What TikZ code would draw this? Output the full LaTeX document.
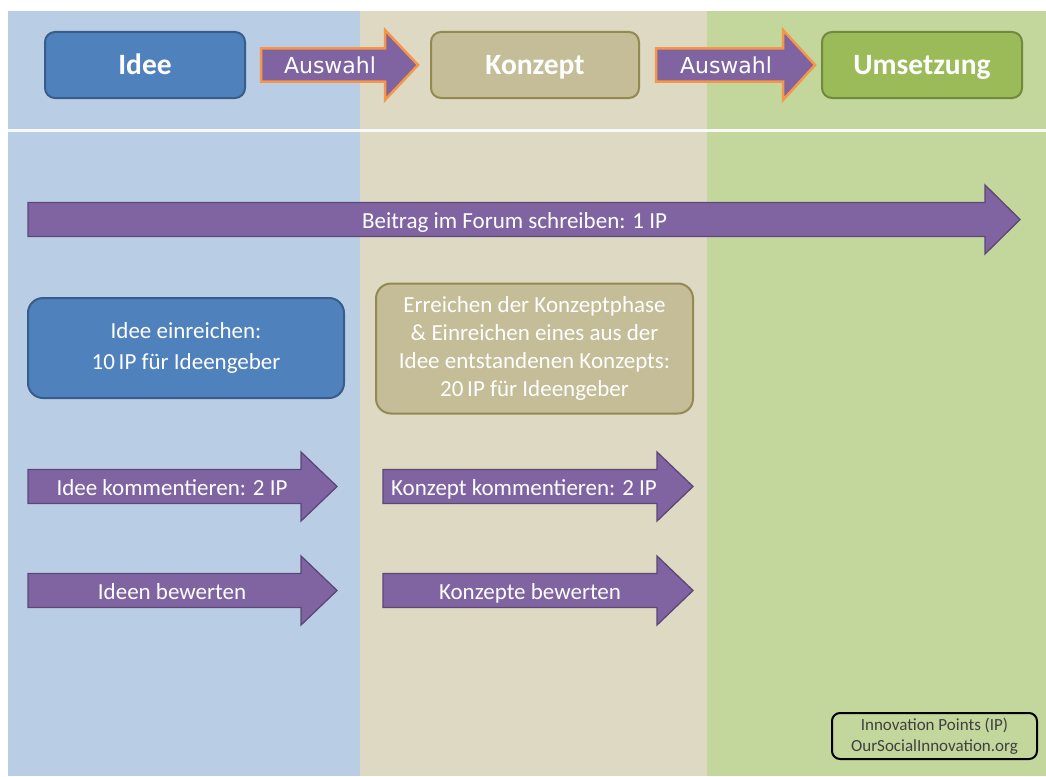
\documentclass[tikz,border=0pt]{standalone}
\usepackage{fontspec}
\setmainfont{Carlito}
\newfontfamily\verd{DejaVu Sans}
\definecolor{bgblue}{HTML}{B9CDE5}
\definecolor{bgbeige}{HTML}{DDD9C3}
\definecolor{bggreen}{HTML}{C3D69B}
\definecolor{ideefill}{HTML}{4F81BD}
\definecolor{ideedraw}{HTML}{385D8A}
\definecolor{konzfill}{HTML}{C4BD97}
\definecolor{konzdraw}{HTML}{938953}
\definecolor{umsfill}{HTML}{9BBB59}
\definecolor{umsdraw}{HTML}{71893F}
\definecolor{purp}{HTML}{8064A2}
\definecolor{purpdraw}{HTML}{5C4776}
\definecolor{orng}{HTML}{F79646}
\definecolor{legtext}{HTML}{404040}
\newcommand\parr[7]{% #1 x0, #2 xh, #3 xt, #4 yc, #5 body half, #6 head half, #7 style
  \draw[#7] (#1,#4-#5) -- (#2,#4-#5) -- (#2,#4-#6) -- (#3,#4) -- (#2,#4+#6) -- (#2,#4+#5) -- (#1,#4+#5) -- cycle;}
\tikzset{
  phase/.style={rounded corners=10pt, line width=2pt, minimum width=200pt, minimum height=66pt,
    text=white, font=\fontsize{29.5}{34}\selectfont\bfseries, text height=19.5pt, text depth=6pt},
  phasetext/.style={text=white, font=\fontsize{29.5}{34}\selectfont\bfseries, text height=19.5pt, text depth=6pt, yshift=-3pt},
  selarrow/.style={fill=purp, draw=orng, line width=2.5pt, line join=miter},
  actarrow/.style={fill=purp, draw=purpdraw, line width=1.3pt, line join=miter},
  seltext/.style={text=white, font=\verd\fontsize{22}{26}\selectfont, text height=16pt, text depth=4.5pt, yshift=-3pt},
  acttext/.style={text=white, font=\fontsize{23}{27}\selectfont, text height=15.2pt, text depth=4.6pt, yshift=-3pt},
  infobox/.style={rounded corners=15pt, line width=2pt, text=white, align=center},
}
\begin{document}
\begin{tikzpicture}[x=1pt,y=-1pt]
\useasboundingbox (0,0) rectangle (1046,776);
\fill[white] (0,0) rectangle (1046,776);
% columns
\fill[bgblue] (8,11) rectangle (360,776);
\fill[bgbeige] (360,11) rectangle (707,776);
\fill[bggreen] (707,11) rectangle (1046,776);
\fill[white!95!gray] (8,128.5) rectangle (1046,131.5);
% phase boxes
\node[phase, fill=ideefill, draw=ideedraw] (idee) at (145,65) {};
\node[phasetext] (ideeT) at (idee.center) {Idee};
\node[phase, fill=konzfill, draw=konzdraw, minimum width=208pt] (konzept) at (535,65) {};
\node[phasetext] (konzeptT) at (konzept.center) {Konzept};
\node[phase, fill=umsfill, draw=umsdraw] (umsetzung) at (922,65) {};
\node[phasetext] (umsetzungT) at (umsetzung.center) {Umsetzung};
% selection arrows
\parr{261}{385}{418}{65}{16.5}{35}{selarrow}
\node[seltext] (aus1) at (330,65) {Auswahl};
\parr{656}{783}{815}{65}{16.5}{35}{selarrow}
\node[seltext] (aus2) at (726,65) {Auswahl};
% big arrow
\parr{28}{985}{1020}{219.5}{17}{34.5}{actarrow}
\node[acttext] (forum) at (514.5,220) {Beitrag im Forum schreiben: 1 IP};
% info boxes
\node[infobox, fill=ideefill, draw=ideedraw, minimum width=316pt, minimum height=100pt,
  font=\fontsize{23}{31}\selectfont] (einr) at (186,348) {Idee einreichen:\\10\,IP für Ideengeber};
\node[infobox, fill=konzfill, draw=konzdraw, minimum width=317pt, minimum height=130pt,
  font=\fontsize{23}{27.7}\selectfont] (kphase) at (534.5,348.5) {Erreichen der Konzeptphase\\\& Einreichen eines aus der\\Idee entstandenen Konzepts:\\20\,IP für Ideengeber};
% action arrows
\parr{28}{301}{337}{486.5}{17}{34.5}{actarrow}
\node[acttext] (ikomm) at (172,487) {Idee kommentieren: 2 IP};
\parr{383}{657}{693}{486.5}{17}{34.5}{actarrow}
\node[acttext] (kkomm) at (524,487) {Konzept kommentieren: 2 IP};
\parr{28}{301}{337}{590.5}{17}{34.5}{actarrow}
\node[acttext] (ibew) at (172,591) {Ideen bewerten};
\parr{383}{657}{693}{590.5}{17}{34.5}{actarrow}
\node[acttext] (kbew) at (530,591) {Konzepte bewerten};
% legend
\node[draw=black, line width=2pt, rounded corners=8pt, minimum width=205pt, minimum height=46pt,
  align=center, text=legtext, font=\fontsize{17}{21}\selectfont] (legend) at (934.5,736)
  {Innovation Points (IP)\\OurSocialInnovation.org};
\end{tikzpicture}
\end{document}
